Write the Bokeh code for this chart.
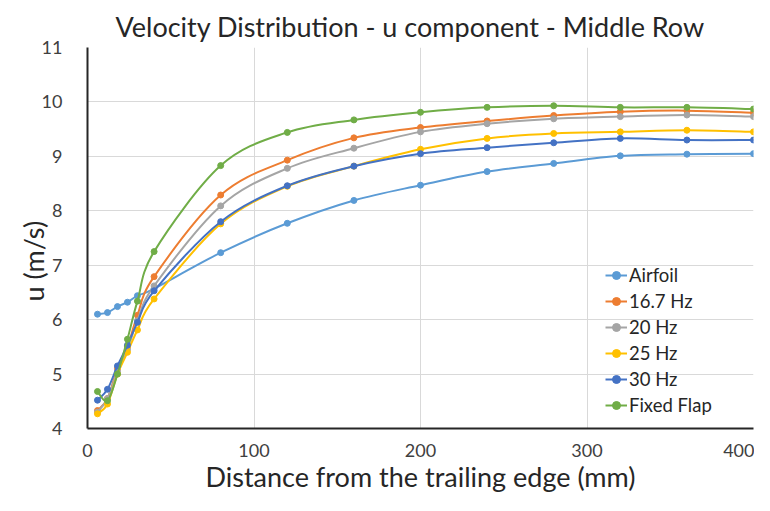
import numpy as np
from bokeh.plotting import figure
from bokeh.models import Range1d, FixedTicker, Legend, LegendItem, ColumnDataSource, Title
from bokeh.embed import file_html
from bokeh.resources import INLINE

x_mm = [6, 12, 18, 24, 30, 40, 80, 120, 160, 200, 240, 280, 320, 360, 400]

airfoil = [6.10, 6.13, 6.24, 6.32, 6.44, 6.57, 7.23, 7.77, 8.19, 8.47, 8.72, 8.87, 9.01, 9.04, 9.05]
hz_16_7 = [4.33, 4.55, 5.10, 5.50, 6.08, 6.79, 8.29, 8.93, 9.34, 9.53, 9.65, 9.75, 9.82, 9.84, 9.80]
hz_20 = [4.30, 4.55, 5.05, 5.45, 5.98, 6.62, 8.09, 8.78, 9.15, 9.45, 9.60, 9.69, 9.73, 9.76, 9.73]
hz_25 = [4.27, 4.45, 5.00, 5.40, 5.81, 6.38, 7.76, 8.45, 8.82, 9.13, 9.33, 9.42, 9.45, 9.48, 9.45]
hz_30 = [4.52, 4.72, 5.15, 5.53, 5.95, 6.53, 7.80, 8.46, 8.82, 9.05, 9.16, 9.25, 9.33, 9.30, 9.30]
fixed_flap = [4.68, 4.51, 5.00, 5.64, 6.34, 7.25, 8.83, 9.44, 9.67, 9.81, 9.90, 9.93, 9.90, 9.90, 9.87]

series_names = ["Airfoil", "16.7 Hz", "20 Hz", "25 Hz", "30 Hz", "Fixed Flap"]
series_values = [airfoil, hz_16_7, hz_20, hz_25, hz_30, fixed_flap]
series_colors = ["#5B9BD5", "#ED7D31", "#A5A5A5", "#FFC000", "#4472C4", "#70AD47"]

x_ticks = [0, 100, 200, 300, 400]
y_ticks = [4, 5, 6, 7, 8, 9, 10, 11]

chart_title = "Velocity Distribution - u component - Middle Row"
x_label = "Distance from the trailing edge (mm)"
y_label = "u (m/s)"

FONT = "Lato"


def smooth_segments(xs, ys, t=1.0 / 6.0):
    xs = np.asarray(xs, dtype=float)
    ys = np.asarray(ys, dtype=float)
    n = len(xs)
    i = np.arange(n - 1)
    im1 = np.clip(i - 1, 0, n - 1)
    ip2 = np.clip(i + 2, 0, n - 1)
    return dict(
        x0=xs[i], y0=ys[i], x1=xs[i + 1], y1=ys[i + 1],
        cx0=xs[i] + (xs[i + 1] - xs[im1]) * t,
        cy0=ys[i] + (ys[i + 1] - ys[im1]) * t,
        cx1=xs[i + 1] - (xs[ip2] - xs[i]) * t,
        cy1=ys[i + 1] - (ys[ip2] - ys[i]) * t,
    )


p = figure(width=754, height=495, output_backend="svg", toolbar_location=None,
           x_range=Range1d(0, 400), y_range=Range1d(4, 11),
           min_border_left=87, min_border_right=1, min_border_top=47, min_border_bottom=66)
p.outline_line_color = None
p.background_fill_color = "white"
p.border_fill_color = "white"

title = Title(text=chart_title, align="left", offset=28,
              text_font=FONT, text_font_size="27px", text_font_style="normal",
              text_color="#262626")
p.add_layout(title, "above")

ytitle = Title(text=y_label, align="left", offset=127, standoff=-22,
               text_font=FONT, text_font_size="27px", text_font_style="normal",
               text_color="#262626")
p.add_layout(ytitle, "left")

p.xaxis.ticker = FixedTicker(ticks=x_ticks)
p.yaxis.ticker = FixedTicker(ticks=y_ticks)
p.xgrid.ticker = FixedTicker(ticks=x_ticks)
p.ygrid.ticker = FixedTicker(ticks=y_ticks)
p.grid.grid_line_color = "#D9D9D9"
p.grid.grid_line_width = 1

for ax in (p.xaxis[0], p.yaxis[0]):
    ax.axis_line_color = "#262626"
    ax.axis_line_width = 2
    ax.major_tick_line_color = None
    ax.minor_tick_line_color = None
    ax.major_label_text_font = FONT
    ax.major_label_text_font_size = "18px"
    ax.major_label_text_color = "#404040"
    ax.axis_label_text_font = FONT
    ax.axis_label_text_font_size = "27px"
    ax.axis_label_text_font_style = "normal"
    ax.axis_label_text_color = "#262626"

p.xaxis.axis_label = x_label
p.xaxis.major_label_standoff = 9
p.yaxis.major_label_standoff = 19
p.xaxis.axis_label_standoff = 0

items = []
for name, vals, col in zip(series_names, series_values, series_colors):
    src = ColumnDataSource(smooth_segments(x_mm, vals))
    br = p.bezier(x0="x0", y0="y0", x1="x1", y1="y1", cx0="cx0", cy0="cy0",
                  cx1="cx1", cy1="cy1", source=src, line_color=col, line_width=2)
    sr = p.scatter(x_mm, vals, marker="circle", size=6, fill_color=col, line_color=col)
    items.append(LegendItem(label=name, renderers=[br, sr]))

legend = Legend(items=items, location=(518, 12), padding=0, margin=0, spacing=4,
                glyph_width=22, glyph_height=20, label_height=20, label_standoff=2,
                label_text_font=FONT, label_text_font_size="18.5px", label_text_color="#262626",
                background_fill_alpha=0, border_line_color=None)
p.add_layout(legend, "center")

open("out.html", "w").write(file_html(p, INLINE))
